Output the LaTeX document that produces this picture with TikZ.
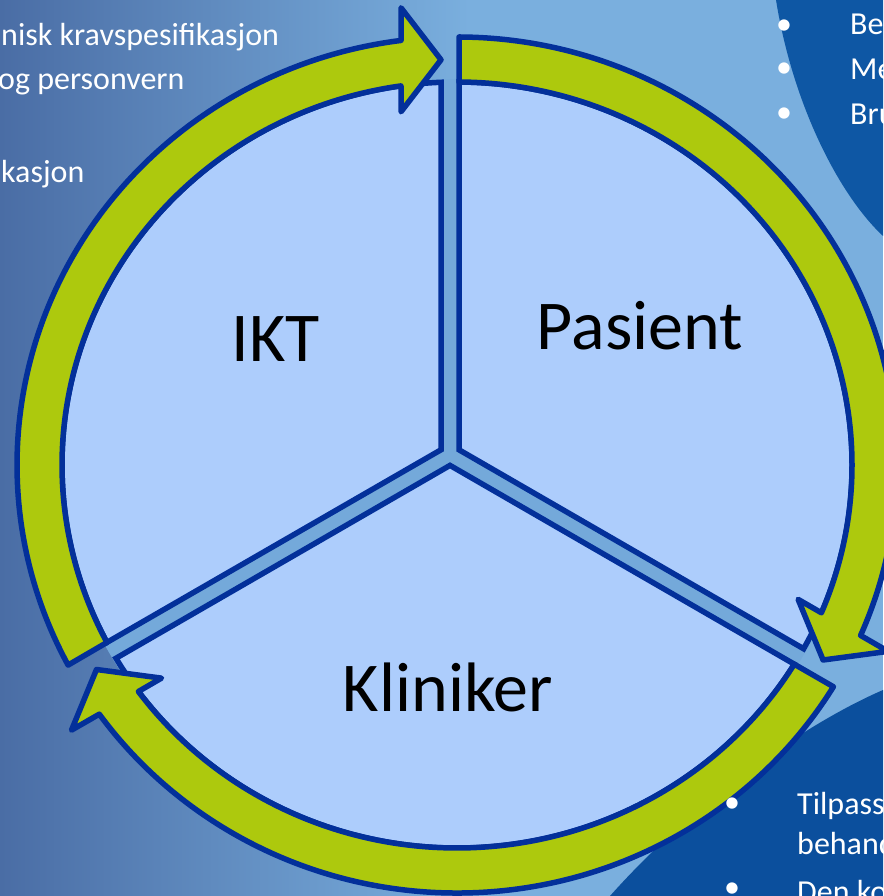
\documentclass[tikz,border=0pt]{standalone}
\usepackage{fontspec}
\setmainfont{Carlito}
\definecolor{ol}{HTML}{03309A}
\definecolor{grn}{HTML}{ADC90D}
\definecolor{sect}{HTML}{ADCDFC}
\definecolor{bgL}{HTML}{4A6DA5}
\definecolor{bgM}{HTML}{7AAFDE}
\definecolor{bgD}{HTML}{0E57A4}
\definecolor{bgE}{HTML}{0B4F9D}
\definecolor{gapc}{HTML}{74A9DA}
\tikzset{
  sector/.style={fill=sect, draw=ol, line width=5.5pt, line join=miter},
  ringarrow/.style={fill=grn, draw=ol, line width=5.5pt, line join=round},
  big/.style={font=\fontsize{70}{84}\selectfont, text=black, inner sep=0pt},
  small/.style={font=\fontsize{32}{38}\selectfont, text=white, inner sep=0pt}
}
\begin{document}
\begin{tikzpicture}[x=1pt,y=1pt]
\useasboundingbox (0,0) rectangle (883,896);
% background
\fill[bgM] (0,0) rectangle (883,896);
\shade[left color=bgL, right color=bgM] (0,0) rectangle (470,896);
\fill[bgD] (776,896) .. controls (793,790) and (840,700) .. (883,660) -- (883,896) -- cycle;
\fill[bgE] (883,206) .. controls (800,170) and (690,90) .. (610,0) -- (883,0) -- cycle;
% gap colour inside the disc
\fill[gapc] (457,431) ellipse[x radius=398pt, y radius=386pt];
% sectors
\path[sector] (441,446.2) -- (441,813.7)
  arc[start angle=92.32, end angle=207.6, x radius=395pt, y radius=383pt] -- cycle;
\path[sector] (459,446.2) -- (803.6,247.25)
  arc[start angle=-28.67, end angle=89.71, x radius=395pt, y radius=383pt] -- cycle;
\path[sector] (450,430.6) -- (116.0,237.75)
  arc[start angle=210.3, end angle=328.66, x radius=395pt, y radius=383pt] -- cycle;
% ring arrows
\path[ringarrow] (68.1,230.9)
  arc[start angle=207.88, end angle=97.31, x radius=440pt, y radius=428pt]
  -- (401,888.2) -- (441,836.2) -- (401,784.2) -- (401,810.1)
  arc[start angle=98.15, end angle=207.6, x radius=395pt, y radius=383pt] -- cycle;
\path[ringarrow] (459,859)
  arc[start angle=89.74, end angle=-23.47, x radius=440pt, y radius=428pt]
  -- (888.1,244.64) -- (823.1,236) -- (798.1,296.64) -- (821.4,283.2)
  arc[start angle=-22.70, end angle=89.71, x radius=395pt, y radius=383pt] -- cycle;
\path[ringarrow] (833.4,209.25)
  arc[start angle=-31.2, end angle=-144.4, x radius=440pt, y radius=428pt]
  -- (71.5,165.86) -- (96.5,226.5) -- (161.5,217.86) -- (138.4,204.5)
  arc[start angle=-143.74, end angle=-31.34, x radius=395pt, y radius=383pt] -- cycle;
% labels
\node[big, anchor=base] (ikt) at (276,534) {IKT};
\node[big, anchor=base] (pas) at (640,546) {Pasient};
\node[big, anchor=base] (kli) at (448,184) {Kliniker};
% side texts
\node[small, anchor=base west] (l1) at (1,850) {nisk kravspesifikasjon};
\node[small, anchor=base west] (l2) at (-2,806) {og personvern};
\node[small, anchor=base west] (l3) at (1,713) {kasjon};
\node[small] (rb1) at (784,869) {•};
\node[small] (rb2) at (784,826) {•};
\node[small] (rb3) at (784,781) {•};
\node[small, anchor=base west] (r1) at (850,861) {Be};
\node[small, anchor=base west] (r2) at (850,816) {Me};
\node[small, anchor=base west] (r3) at (850,771) {Bru};
\node[small] (bb1) at (732,91) {•};
\node[small] (bb2) at (732,6) {•};
\node[small, anchor=base west] (s1) at (797,81) {Tilpass};
\node[small, anchor=base west] (s2) at (797,41) {behand};
\node[small, anchor=base west] (s3) at (797,-6) {Den ko};
\end{tikzpicture}
\end{document}
